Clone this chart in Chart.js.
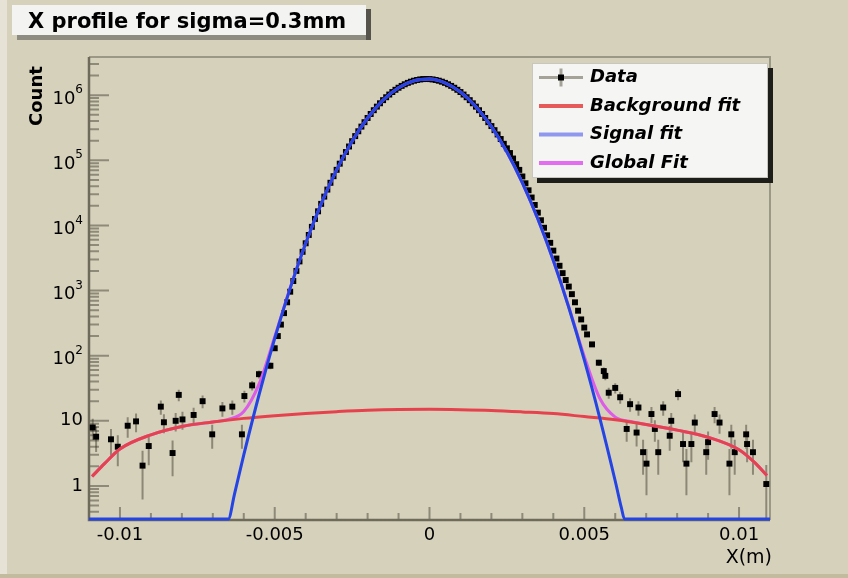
<!DOCTYPE html>
<html>
<head>
<meta charset="utf-8">
<script src="https://cdn.jsdelivr.net/npm/chart.js@4.4.1/dist/chart.umd.min.js"></script>
<style>
  html, body { margin: 0; padding: 0; background: #d6d1bb; }
  canvas { display: block; }
</style>
</head>
<body>
<canvas id="profileChart" width="848" height="578"></canvas>
<script>
// measured counts, left tail (sparse bins)
const tailLeftX = [-0.01088, -0.01077, -0.01029, -0.01007, -0.00975, -0.00948, -0.00927, -0.00907,
  -0.00868, -0.00858, -0.0083, -0.0082, -0.0081, -0.00798, -0.00762, -0.00733, -0.00702, -0.00669,
  -0.00637, -0.00606, -0.00598, -0.00573, -0.00551, -0.00514];
const tailLeftCounts = [7.9, 5.7, 5.2, 4.0, 8.4, 9.8, 2.05, 4.1, 16.5, 9.5, 3.2, 10, 25, 10.5, 12.3, 20,
  6.2, 15.5, 16.5, 6.2, 24, 35, 52, 70];

// peak region, one bin every 0.1 mm starting at -5 mm
const peakBinStart = -0.005;
const peakBinWidth = 0.0001;
const peakCounts = [
  130, 200, 300, 450, 660, 960, 1400, 2000, 2800, 3932,
  5316, 7135, 9500, 12550, 16460, 21420, 27670, 35460, 45110, 56950,
  71340, 88660, 109400, 133900, 162700, 196300, 234900, 278800, 328700, 384300,
  445900, 513500, 587000, 666000, 749800, 837500, 928500, 1021000, 1115000, 1208000,
  1299000, 1387000, 1468000, 1543000, 1609000, 1665000, 1710000, 1743000, 1763000, 1770000,
  1763000, 1743000, 1710000, 1665000, 1609000, 1543000, 1468000, 1387000, 1299000, 1208000,
  1115000, 1021000, 928500, 837500, 749800, 666000, 587000, 513500, 445900, 384300,
  335000, 290000, 249000, 212000, 179000, 152600, 129100, 106400, 87000, 71200,
  56400, 44300, 34600, 26800, 20600, 15700, 12000, 9200, 7050, 5400,
  4100, 3100, 2400, 1850, 1450, 1150, 880, 660, 490, 360,
  270
];

// right tail
const tailRightX = [0.00509, 0.00525, 0.00547, 0.00563, 0.00568, 0.00579, 0.006, 0.00616, 0.00637,
  0.00648, 0.00669, 0.00675, 0.0069, 0.00701, 0.00717, 0.00728, 0.00739, 0.00755, 0.00776, 0.00781,
  0.00803, 0.00819, 0.0083, 0.00846, 0.00857, 0.00894, 0.009, 0.00921, 0.00937, 0.00969, 0.00975,
  0.00986, 0.01023, 0.01026, 0.01045, 0.01088];
const tailRightCounts = [212, 149, 78, 58, 49, 27, 32, 23, 7.5, 18, 6.6, 16, 3.3, 2.2, 12.7, 7.5, 3.3,
  16, 5.9, 10, 25.7, 4.4, 2.2, 4.4, 9.4, 3.3, 4.7, 12.7, 9.4, 2.2, 6.2, 3.3, 6.2, 4.4, 3.3, 1.07];

// fitted curves, sampled
const bgFitX = [-0.0109, -0.0105, -0.01, -0.009, -0.008, -0.007, -0.006, -0.005, -0.004, -0.003, -0.002,
  -0.001, 0, 0.001, 0.002, 0.003, 0.004, 0.005, 0.006, 0.007, 0.008, 0.009, 0.01, 0.0105, 0.0109];
const bgFitY = [1.4, 2.2, 3.7, 6.1, 8.2, 9.6, 10.9, 12.0, 13.0, 13.8, 14.5, 14.9, 15.0, 14.8, 14.4, 13.7,
  12.9, 11.6, 10.4, 8.8, 7.2, 5.6, 3.6, 2.3, 1.45];

const sigFitX = [-0.011, -0.0065, -0.0063, -0.006, -0.0055, -0.005, -0.0045, -0.004, -0.0035, -0.003,
  -0.0025, -0.002, -0.0015, -0.001, -0.0005, 0, 0.0005, 0.001, 0.0015, 0.002, 0.0025, 0.003, 0.0035,
  0.004, 0.0045, 0.005, 0.0055, 0.006, 0.0062, 0.0063, 0.011];
const sigFitY = [0.31, 0.31, 0.75, 2.99, 25.8, 184.5, 1089, 5321, 21430, 71290, 196300, 445900, 837500,
  1299000, 1665000, 1763000, 1543000, 1115000, 666000, 328700, 134000, 45110, 12560, 2884, 548, 86,
  11.1, 1.19, 0.46, 0.31, 0.31];

const globFitX = [-0.0109, -0.0105, -0.01, -0.009, -0.008, -0.007, -0.0065, -0.006, -0.0055, -0.005,
  -0.0045, -0.004, -0.0035, -0.003, -0.0025, -0.002, -0.0015, -0.001, -0.0005, 0, 0.0005, 0.001, 0.0015,
  0.002, 0.0025, 0.003, 0.0035, 0.004, 0.0045, 0.005, 0.0055, 0.006, 0.0065, 0.007, 0.008, 0.009, 0.01,
  0.0105, 0.0109];
const globFitY = [1.4, 2.2, 3.7, 6.1, 8.2, 9.6, 10.5, 13.9, 37.2, 196, 1101, 5334, 21440, 71300, 196300,
  445900, 837500, 1299000, 1665000, 1763000, 1543000, 1115000, 666000, 328700, 134000, 45120, 12570,
  2897, 560, 97.6, 22.2, 11.4, 9.8, 8.8, 7.2, 5.6, 3.6, 2.3, 1.45];

const xTickValues = [-0.01, -0.005, 0, 0.005, 0.01];
const xTickLabels = ['-0.01', '-0.005', '0', '0.005', '0.01'];
const yDecades = [1, 10, 100, 1000, 10000, 100000, 1000000];
const yDecadeBase = ['1', '10', '10', '10', '10', '10', '10'];
const yDecadeExp = ['', '', '2', '3', '4', '5', '6'];

const titleText = 'X profile for sigma=0.3mm';
const xTitle = 'X(m)';
const yTitle = 'Count';
const legendLabels = ['Data', 'Background fit', 'Signal fit', 'Global Fit'];

const colData = '#000000';
const colBg = '#e6424e';
const colSig = '#2544e4';
const colGlob = '#dc5ce8';

const FONT = '"DejaVu Sans", "Liberation Sans", sans-serif';

const toXY = (xs, ys) => xs.map((x, i) => ({ x, y: ys[i] }));

const dataPoints = [];
tailLeftX.forEach((x, i) => dataPoints.push({ x, y: tailLeftCounts[i] }));
peakCounts.forEach((c, i) => dataPoints.push({ x: peakBinStart + i * peakBinWidth, y: c }));
tailRightX.forEach((x, i) => dataPoints.push({ x, y: tailRightCounts[i] }));

const fitClip = { left: 2, top: 0, right: 2, bottom: 3 };

// ROOT-like frame, ticks, labels, title and legend
const rootStyle = {
  id: 'rootStyle',
  beforeDraw(chart) {
    const { ctx, width, height } = chart;
    ctx.save();
    ctx.fillStyle = '#d6d1bb';
    ctx.fillRect(0, 0, width, height);
    ctx.fillStyle = '#e6e3d6';
    ctx.fillRect(0, 0, 7, height);
    ctx.fillStyle = '#c3bb9e';
    ctx.fillRect(0, height - 4, width, 4);
    ctx.restore();
  },
  beforeDatasetsDraw(chart) {
    const { ctx, chartArea: a, scales: { x, y } } = chart;
    ctx.save();

    // frame top/right
    ctx.strokeStyle = '#9c9886';
    ctx.lineWidth = 2;
    ctx.beginPath();
    ctx.moveTo(a.left, a.top);
    ctx.lineTo(a.right, a.top);
    ctx.lineTo(a.right, a.bottom);
    ctx.stroke();

    // inward ticks
    ctx.strokeStyle = '#8e8a79';
    ctx.lineWidth = 2;
    ctx.beginPath();
    for (let k = -10; k <= 10; k++) {
      const px = x.getPixelForValue(k * 0.001);
      const len = k % 5 === 0 ? 13 : 7;
      ctx.moveTo(px, a.bottom);
      ctx.lineTo(px, a.bottom - len);
    }
    for (let e = -1; e <= 6; e++) {
      for (let m = 1; m <= 9; m++) {
        const v = m * Math.pow(10, e);
        if (v < y.min || v > y.max) continue;
        const py = y.getPixelForValue(v);
        ctx.moveTo(a.left, py);
        ctx.lineTo(a.left + (m === 1 ? 20 : 10), py);
      }
    }
    ctx.stroke();

    // axis lines
    ctx.strokeStyle = '#6f6b5b';
    ctx.lineWidth = 2.5;
    ctx.beginPath();
    ctx.moveTo(a.left, a.top);
    ctx.lineTo(a.left, a.bottom);
    ctx.lineTo(a.right, a.bottom);
    ctx.stroke();

    // error bars
    ctx.beginPath();
    ctx.rect(a.left, a.top, a.right - a.left, a.bottom - a.top);
    ctx.clip();
    ctx.strokeStyle = 'rgba(40,36,24,0.42)';
    ctx.lineWidth = 2;
    ctx.beginPath();
    dataPoints.forEach(p => {
      const err = Math.sqrt(p.y);
      const lo = Math.max(p.y - err, y.min);
      const px = x.getPixelForValue(p.x);
      ctx.moveTo(px, y.getPixelForValue(lo));
      ctx.lineTo(px, y.getPixelForValue(p.y + err));
    });
    ctx.stroke();
    ctx.restore();
  },
  afterDatasetsDraw(chart) {
    const { ctx, chartArea: a, scales: { y } } = chart;
    ctx.save();
    ctx.fillStyle = '#000';

    // y decade labels with exponents
    ctx.textAlign = 'right';
    ctx.textBaseline = 'middle';
    yDecades.forEach((v, i) => {
      const py = y.getPixelForValue(v);
      const right = 83;
      if (yDecadeExp[i] === '') {
        ctx.font = '18px ' + FONT;
        ctx.fillText(yDecadeBase[i], right, py);
      } else {
        ctx.font = '12px ' + FONT;
        const ew = ctx.measureText(yDecadeExp[i]).width;
        ctx.fillText(yDecadeExp[i], right, py - 5);
        ctx.font = '18px ' + FONT;
        ctx.fillText(yDecadeBase[i], right - ew, py + 4);
      }
    });

    // axis titles
    ctx.font = '19px ' + FONT;
    ctx.textAlign = 'right';
    ctx.fillText(xTitle, a.right + 2, 558);
    ctx.save();
    ctx.translate(37, a.top + 3);
    ctx.rotate(-Math.PI / 2);
    ctx.font = 'bold 18px ' + FONT;
    ctx.textAlign = 'left';
    ctx.fillText(yTitle, -66, 0);
    ctx.restore();

    // title box
    ctx.fillStyle = '#8e8b80';
    ctx.fillRect(17, 35, 354, 5);
    ctx.fillStyle = '#55534c';
    ctx.fillRect(366, 9, 5, 31);
    ctx.fillStyle = '#f3f3f1';
    ctx.fillRect(12, 5, 354, 30);
    ctx.fillStyle = '#000';
    ctx.font = 'bold 21px ' + FONT;
    ctx.textAlign = 'left';
    ctx.textBaseline = 'alphabetic';
    ctx.fillText(titleText, 28, 28);

    // legend box
    const lx = 532, ly = 63, lw = 236, lh = 115;
    ctx.fillStyle = '#1d1d1a';
    ctx.fillRect(lx + 5, ly + 5, lw, lh);
    ctx.fillStyle = '#f5f5f3';
    ctx.fillRect(lx, ly, lw, lh);
    ctx.strokeStyle = '#c9c7bd';
    ctx.lineWidth = 1;
    ctx.strokeRect(lx + 0.5, ly + 0.5, lw - 1, lh - 1);

    const lineCols = [null, '#e65a5a', '#8f97ee', '#e46cf0'];
    legendLabels.forEach((label, i) => {
      const ry = ly + 14.5 + i * 28.5;
      if (i === 0) {
        ctx.strokeStyle = '#a5a397';
        ctx.lineWidth = 3;
        ctx.beginPath();
        ctx.moveTo(539, ry); ctx.lineTo(583, ry);
        ctx.moveTo(561, ry - 9); ctx.lineTo(561, ry + 9);
        ctx.stroke();
        ctx.fillStyle = colData;
        ctx.fillRect(558, ry - 3, 6, 6);
      } else {
        ctx.strokeStyle = lineCols[i];
        ctx.lineWidth = 4;
        ctx.beginPath();
        ctx.moveTo(539, ry); ctx.lineTo(583, ry);
        ctx.stroke();
      }
      ctx.fillStyle = '#000';
      ctx.font = 'italic bold 18px ' + FONT;
      ctx.textBaseline = 'middle';
      ctx.fillText(label, 590, ry);
    });
    ctx.restore();
  }
};

new Chart(document.getElementById('profileChart'), {
  type: 'scatter',
  data: {
    datasets: [
      {
        label: 'Data',
        data: dataPoints,
        showLine: false,
        pointStyle: 'rect',
        pointRadius: 4.2,
        pointBackgroundColor: colData,
        pointBorderWidth: 0,
        order: 4
      },
      {
        label: 'Global Fit',
        data: toXY(globFitX, globFitY),
        showLine: true,
        borderColor: colGlob,
        borderWidth: 3,
        pointRadius: 0,
        cubicInterpolationMode: 'monotone',
        clip: fitClip,
        order: 3
      },
      {
        label: 'Background fit',
        data: toXY(bgFitX, bgFitY),
        showLine: true,
        borderColor: colBg,
        borderWidth: 3,
        pointRadius: 0,
        cubicInterpolationMode: 'monotone',
        clip: fitClip,
        order: 2
      },
      {
        label: 'Signal fit',
        data: toXY(sigFitX, sigFitY),
        showLine: true,
        borderColor: colSig,
        borderWidth: 3,
        pointRadius: 0,
        cubicInterpolationMode: 'monotone',
        clip: fitClip,
        order: 1
      }
    ]
  },
  options: {
    responsive: false,
    animation: false,
    devicePixelRatio: 1,
    layout: { padding: { left: 0, top: 57, right: 78, bottom: 0 } },
    plugins: { legend: { display: false }, tooltip: { enabled: false }, title: { display: false } },
    scales: {
      x: {
        type: 'linear',
        min: -0.011,
        max: 0.011,
        grid: { display: false, drawTicks: false },
        border: { display: false },
        afterBuildTicks: scale => { scale.ticks = xTickValues.map(v => ({ value: v })); },
        afterFit: scale => { scale.height = 58; },
        ticks: {
          autoSkip: false,
          maxRotation: 0,
          padding: 5,
          color: '#000',
          font: { family: FONT, size: 18 },
          callback: (v, i) => xTickLabels[i]
        }
      },
      y: {
        type: 'logarithmic',
        min: 0.31,
        max: 3.85e6,
        grid: { display: false, drawTicks: false },
        border: { display: false },
        afterBuildTicks: scale => { scale.ticks = yDecades.map(v => ({ value: v })); },
        afterFit: scale => { scale.width = 89; },
        ticks: { display: false }
      }
    }
  },
  plugins: [rootStyle]
});
</script>
</body>
</html>
